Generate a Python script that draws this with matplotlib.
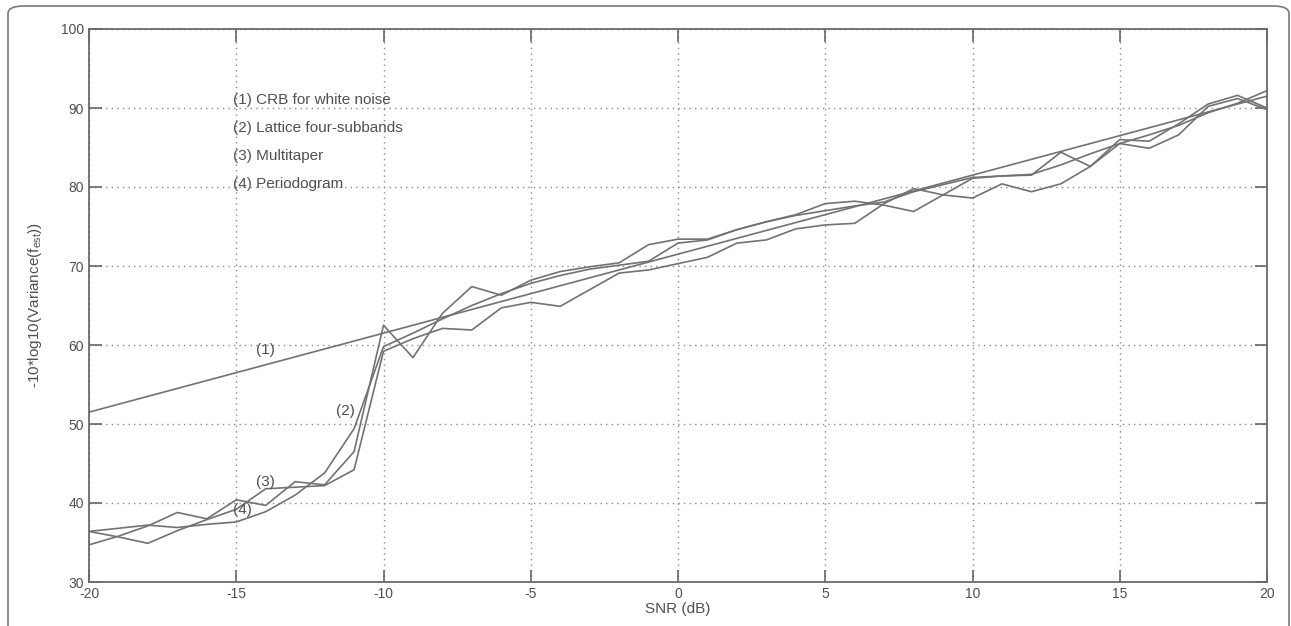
import matplotlib
matplotlib.use("Agg")
import matplotlib.pyplot as plt
from matplotlib.patches import FancyBboxPatch

plt.rcParams["font.family"] = ["Liberation Sans", "DejaVu Sans"]
plt.rcParams["axes.unicode_minus"] = False

snr = list(range(-20, 21))

crb = [51.5, 52.5, 53.5, 54.5, 55.5, 56.5, 57.5, 58.5, 59.5, 60.5,
       61.5, 62.5, 63.5, 64.5, 65.5, 66.5, 67.5, 68.5, 69.5, 70.5,
       71.5, 72.5, 73.5, 74.5, 75.5, 76.5, 77.5, 78.5, 79.5, 80.5,
       81.5, 82.5, 83.5, 84.5, 85.5, 86.5, 87.5, 88.5, 89.5, 90.5, 91.5]

lattice = [36.4, 36.8, 37.2, 36.9, 37.3, 37.6, 38.9, 41.0, 43.8, 49.4,
           59.8, 61.5, 63.3, 65.0, 66.5, 67.8, 68.8, 69.6, 70.1, 70.6,
           72.9, 73.3, 74.6, 75.6, 76.4, 77.0, 77.6, 78.1, 79.4, 80.3,
           81.2, 81.4, 81.6, 82.8, 84.2, 85.5, 86.6, 87.8, 89.4, 90.6, 92.2]

multitaper = [34.7, 35.8, 37.1, 38.8, 38.0, 40.4, 39.7, 42.7, 42.3, 46.5,
              62.5, 58.4, 64.0, 67.4, 66.3, 68.2, 69.3, 69.9, 70.4, 72.7,
              73.4, 73.4, 74.6, 75.6, 76.5, 77.9, 78.2, 77.7, 76.9, 79.0,
              81.1, 81.4, 81.5, 84.4, 82.6, 86.0, 85.8, 88.0, 90.5, 91.6, 90.0]

periodogram = [36.4, 35.7, 34.9, 36.5, 37.9, 39.2, 41.8, 42.0, 42.2, 44.2,
               59.2, 60.8, 62.1, 61.9, 64.7, 65.4, 64.9, 67.0, 69.1, 69.5,
               70.3, 71.1, 72.9, 73.3, 74.7, 75.2, 75.4, 77.9, 79.8, 79.0,
               78.6, 80.4, 79.4, 80.4, 82.6, 85.5, 84.9, 86.6, 90.2, 91.2, 89.8]

legend_lines = ["(1) CRB for white noise", "(2) Lattice four-subbands",
                "(3) Multitaper", "(4) Periodogram"]

line_color = "#727272"
text_color = "#505050"

fig = plt.figure(figsize=(12.91, 6.26), dpi=100)
ax = fig.add_axes([89 / 1291, 1 - 582 / 626, (1267 - 89) / 1291, (582 - 29) / 626])

for series in (crb, lattice, multitaper, periodogram):
    ax.plot(snr, series, color=line_color, linewidth=1.2)

ax.set_xlim(-20, 20)
ax.set_ylim(30, 100)
ax.set_xticks(range(-20, 21, 5))
ax.set_yticks(range(30, 101, 10))
ax.grid(True, linestyle=(0, (1, 3)), color="#8a8a8a", linewidth=1.0)
ax.tick_params(direction="in", length=9, width=1.2, color="#666666",
               labelcolor=text_color, labelsize=10, top=True, right=True)
for spine in ax.spines.values():
    spine.set_color("#6a6a6a")
    spine.set_linewidth(1.3)

ax.set_xlabel("SNR (dB)", fontsize=11, color=text_color, labelpad=1)
ax.set_ylabel(r"-10*log10(Variance(f$_{\mathregular{est}}$))", fontsize=11,
              color=text_color, labelpad=12)

# key text in the upper left
for i, txt in enumerate(legend_lines):
    ax.text(-15.1, 91.0 - i * 3.55, txt, fontsize=11, color=text_color,
            va="center", ha="left")

# curve markers
ax.text(-14.0, 59.4, "(1)", fontsize=11, color=text_color, ha="center", va="center")
ax.text(-11.3, 51.6, "(2)", fontsize=11, color=text_color, ha="center", va="center")
ax.text(-14.0, 42.7, "(3)", fontsize=11, color=text_color, ha="center", va="center")
ax.text(-14.8, 39.1, "(4)", fontsize=11, color=text_color, ha="center", va="center")

# rounded panel border
frame = FancyBboxPatch((8 / 1291, -0.1), (1289 - 8) / 1291, 1.1 - 6 / 626,
                       boxstyle="round,pad=0,rounding_size=0.012",
                       transform=fig.transFigure, fill=False,
                       edgecolor="#7a7a7a", linewidth=1.2, clip_on=False)
fig.patches.append(frame)

fig.savefig("out.png", dpi=100)
